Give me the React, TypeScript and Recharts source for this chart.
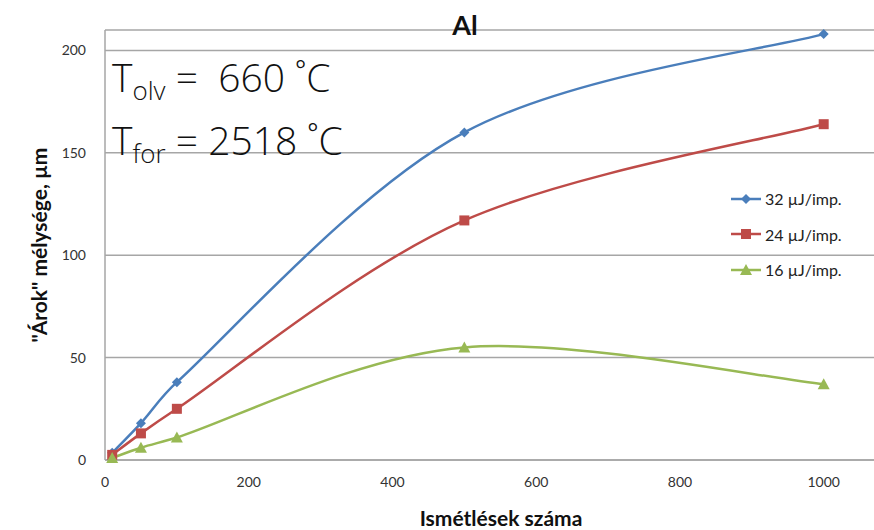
import { LineChart, Line, XAxis, YAxis, CartesianGrid } from "recharts";

// number of repetitions (x) and trench depth in µm per pulse energy
const repetitions = [10, 50, 100, 500, 1000];
const depth32 = [3.5, 18, 38, 160, 208];
const depth24 = [2.5, 13, 25, 117, 164];
const depth16 = [1, 6, 11, 55, 37];

const xTicks = [0, 200, 400, 600, 800, 1000];
const yTicks = [0, 50, 100, 150, 200];

const seriesNames = ["32 µJ/imp.", "24 µJ/imp.", "16 µJ/imp."];
const seriesColors = ["#4a7ebb", "#be4b48", "#98b954"];

const chartData = repetitions.map((n, i) => ({
    n,
    s32: depth32[i],
    s24: depth24[i],
    s16: depth16[i],
}));

// control offset, shortened so it never reaches far past its own segment
const clampOffset = (dx: number, dy: number, segLen: number) => {
    const len = Math.hypot(dx, dy);
    const max = 0.4 * segLen;
    const k = len > max && len > 0 ? max / len : 1;
    return [dx * k, dy * k];
};

// smoothed line through every point, Catmull-Rom style bezier segments
const smoothCurve = (context: any) => {
    let pts: number[][] = [];
    return {
        areaStart() {},
        areaEnd() {},
        lineStart() {
            pts = [];
        },
        point(x: number, y: number) {
            pts.push([+x, +y]);
        },
        lineEnd() {
            const n = pts.length;
            if (!n) return;
            context.moveTo(pts[0][0], pts[0][1]);
            for (let i = 0; i < n - 1; i++) {
                const p0 = pts[Math.max(i - 1, 0)];
                const p1 = pts[i];
                const p2 = pts[i + 1];
                const p3 = pts[Math.min(i + 2, n - 1)];
                const seg = Math.hypot(p2[0] - p1[0], p2[1] - p1[1]);
                const [ax, ay] = clampOffset((p2[0] - p0[0]) / 6, (p2[1] - p0[1]) / 6, seg);
                const [bx, by] = clampOffset((p3[0] - p1[0]) / 6, (p3[1] - p1[1]) / 6, seg);
                context.bezierCurveTo(p1[0] + ax, p1[1] + ay, p2[0] - bx, p2[1] - by, p2[0], p2[1]);
            }
        },
    };
};

const Diamond = ({ cx, cy, fill }: any) => (
    <path d={`M${cx},${cy - 5}L${cx + 5},${cy}L${cx},${cy + 5}L${cx - 5},${cy}Z`} fill={fill} />
);
const Square = ({ cx, cy, fill }: any) => (
    <rect x={cx - 5} y={cy - 5} width={10} height={10} fill={fill} />
);
const Triangle = ({ cx, cy, fill }: any) => (
    <path d={`M${cx},${cy - 6}L${cx + 6},${cy + 5}L${cx - 6},${cy + 5}Z`} fill={fill} />
);
const markers = [Diamond, Square, Triangle];

const tickStyle = { fill: "#333", fontSize: 14, fontFamily: "Lato, sans-serif" };

export default function App() {
    return (
        <div style={{ position: "absolute", left: 0, top: 0, width: 874, height: 530, background: "#fff" }}>
            <LineChart
                width={874}
                height={530}
                data={chartData}
                margin={{ top: 30, right: 0, bottom: 0, left: 45 }}
            >
                <CartesianGrid vertical={false} stroke="#a6a6a6" strokeWidth={1.5} />
                <XAxis
                    dataKey="n"
                    type="number"
                    domain={[0, 1070]}
                    ticks={xTicks}
                    tickLine={false}
                    tickMargin={11}
                    axisLine={{ stroke: "#a6a6a6", strokeWidth: 1.5 }}
                    tick={tickStyle}
                    height={70}
                />
                <YAxis
                    type="number"
                    domain={[0, 210]}
                    ticks={yTicks}
                    tickLine={false}
                    tickMargin={13}
                    axisLine={{ stroke: "#a6a6a6", strokeWidth: 1.5 }}
                    tick={tickStyle}
                    width={60}
                />
                {["s32", "s24", "s16"].map((key, i) => {
                    const M = markers[i];
                    return (
                        <Line
                            key={key}
                            dataKey={key}
                            name={seriesNames[i]}
                            type={smoothCurve as any}
                            stroke={seriesColors[i]}
                            strokeWidth={2.5}
                            dot={(p: any) => <M key={`${key}-${p.index}`} cx={p.cx} cy={p.cy} fill={seriesColors[i]} />}
                            activeDot={false}
                            isAnimationActive={false}
                        />
                    );
                })}
            </LineChart>

            {/* legend */}
            <div
                style={{
                    position: "absolute",
                    left: 730,
                    top: 181,
                    fontFamily: "Lato, sans-serif",
                    fontSize: 16,
                    color: "#222",
                }}
            >
                {seriesNames.map((name, i) => {
                    const M = markers[i];
                    return (
                        <div key={name} style={{ display: "flex", alignItems: "center", height: 35.5 }}>
                            <svg width={32} height={14} style={{ marginRight: 3 }}>
                                <line x1={1} y1={7} x2={31} y2={7} stroke={seriesColors[i]} strokeWidth={2.5} />
                                <M cx={16} cy={7} fill={seriesColors[i]} />
                            </svg>
                            <span>{name}</span>
                        </div>
                    );
                })}
            </div>

            <div
                style={{
                    position: "absolute",
                    left: 465,
                    top: 24,
                    transform: "translate(-50%, -50%)",
                    fontFamily: "Lato, sans-serif",
                    fontWeight: 700,
                    fontSize: 27,
                    color: "#111",
                }}
            >
                Al
            </div>

            <div
                style={{
                    position: "absolute",
                    left: 501,
                    top: 517,
                    transform: "translate(-50%, -50%)",
                    fontFamily: "Lato, sans-serif",
                    fontWeight: 700,
                    fontSize: 21,
                    color: "#111",
                    whiteSpace: "nowrap",
                }}
            >
                Ismétlések száma
            </div>

            <div
                style={{
                    position: "absolute",
                    left: 38,
                    top: 245,
                    transform: "translate(-50%, -50%) rotate(-90deg)",
                    fontFamily: "Lato, sans-serif",
                    fontWeight: 700,
                    fontSize: 21,
                    color: "#111",
                    whiteSpace: "nowrap",
                }}
            >
                "Árok" mélysége, µm
            </div>

            <div
                style={{
                    position: "absolute",
                    left: 112,
                    top: 52,
                    fontFamily: "'Open Sans', sans-serif",
                    fontWeight: 300,
                    fontSize: 39,
                    lineHeight: "49px",
                    color: "#111",
                    whiteSpace: "pre",
                }}
            >
                <div>
                    T<sub style={{ fontSize: 26, verticalAlign: -8 }}>olv</sub> =  660 ˚C
                </div>
                <div>
                    T<sub style={{ fontSize: 26, verticalAlign: -8 }}>for</sub> = 2518 ˚C
                </div>
            </div>
        </div>
    );
}
